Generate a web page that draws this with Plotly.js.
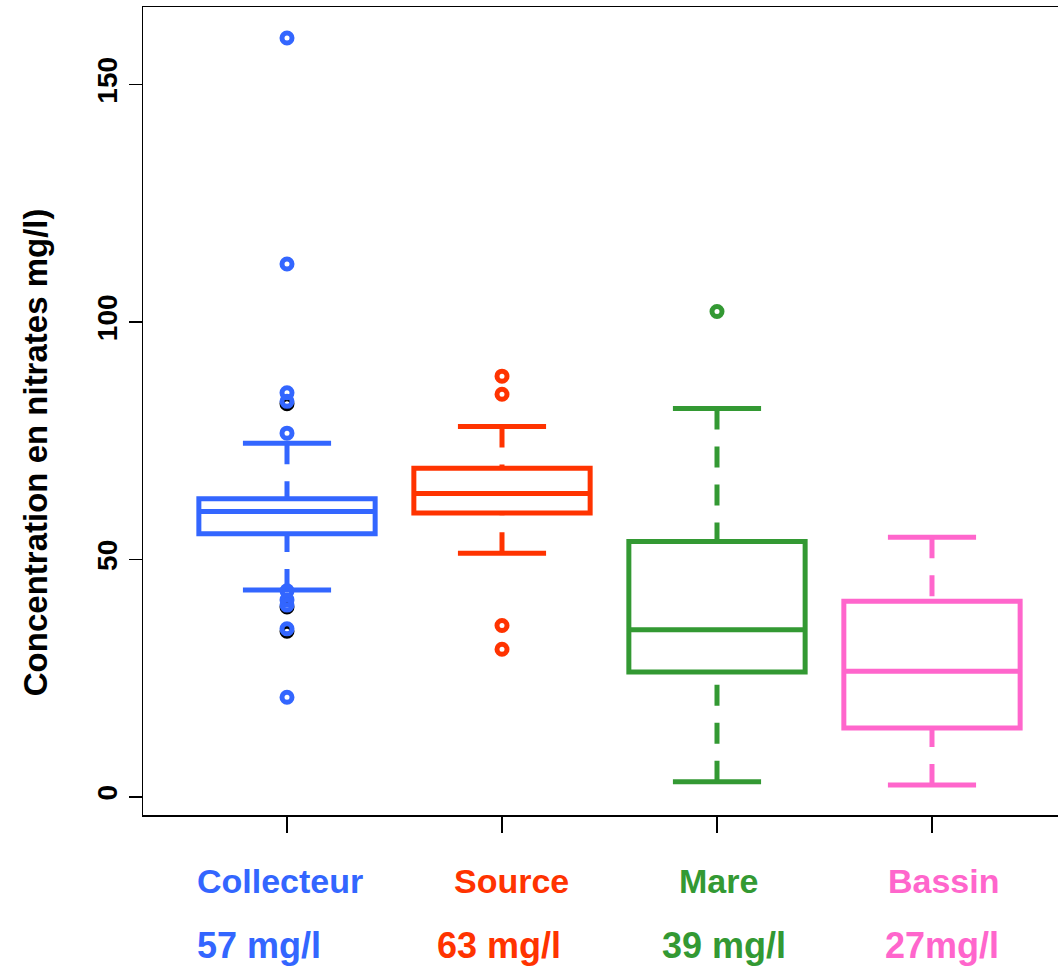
<!DOCTYPE html>
<html>
<head>
<meta charset="utf-8">
<script src="https://cdn.plot.ly/plotly-3.0.1.min.js"></script>
<style>
  html, body { margin: 0; padding: 0; background: #ffffff; overflow: hidden; }
  #chart { width: 1064px; height: 970px; }
</style>
</head>
<body>
<div id="chart"></div>
<script>
// ---- data ----
const categories = ["Collecteur", "Source", "Mare", "Bassin"];
const meanLabels = ["57 mg/l", "63 mg/l", "39 mg/l", "27mg/l"];
const colors = ["#3366FF", "#FF3300", "#339933", "#FF66CC"];

const lowerWhisker = [43.6, 51.3, 3.2, 2.5];
const q1Values     = [55.4, 59.8, 26.3, 14.5];
const medianValues = [60.1, 63.9, 35.2, 26.5];
const q3Values     = [62.8, 69.2, 53.8, 41.2];
const upperWhisker = [74.5, 78.0, 81.8, 54.7];

const outliersCollecteur = [159.8, 112.2, 85.1, 83.3, 76.6, 43.4, 41.5, 40.4, 35.4, 21.0];
const shadowCollecteur   = [82.8, 40.0, 34.9];
const outliersSource     = [88.6, 84.8, 36.1, 31.1];
const outliersMare       = [102.2];
const outliersBassin     = [];
const outliers = [outliersCollecteur, outliersSource, outliersMare, outliersBassin];

const yTicks = [0, 50, 100, 150];
const yTitle = "Concentration en nitrates mg/l)";

// ---- layout constants ----
const boxWidth = 0.82;
const lineW = 5;
const font = "Liberation Sans, Arial, Helvetica, sans-serif";
const nameShift = [-7, 9, 1, 12];
const meanShift = [-28, -3, 7, 10];

const traces = [];

// shadow (black) points beneath some Collecteur outliers
traces.push({
  type: "scatter", mode: "markers",
  x: shadowCollecteur.map(() => 1), y: shadowCollecteur,
  marker: { symbol: "circle-open", size: 10, color: "#000000", line: { width: 5, color: "#000000" } },
  hoverinfo: "y", showlegend: false
});

categories.forEach((cat, i) => {
  const pos = i + 1;
  const c = colors[i];
  // box + median (whiskers drawn separately as dashed lines)
  traces.push({
    type: "box", name: cat, x: [pos],
    q1: [q1Values[i]], median: [medianValues[i]], q3: [q3Values[i]],
    lowerfence: [q1Values[i]], upperfence: [q3Values[i]],
    width: boxWidth, whiskerwidth: 0, boxpoints: false,
    line: { color: c, width: lineW }, fillcolor: "rgba(255,255,255,0)",
    showlegend: false
  });
  // dashed whiskers (from whisker end to box)
  traces.push({
    type: "scatter", mode: "lines",
    x: [pos, pos, null, pos, pos],
    y: [upperWhisker[i], q3Values[i], null, lowerWhisker[i], q1Values[i]],
    line: { color: c, width: lineW, dash: "21px,17px" },
    hoverinfo: "skip", showlegend: false
  });
  // whisker caps
  const h = boxWidth / 4;
  traces.push({
    type: "scatter", mode: "lines",
    x: [pos - h, pos + h, null, pos - h, pos + h],
    y: [upperWhisker[i], upperWhisker[i], null, lowerWhisker[i], lowerWhisker[i]],
    line: { color: c, width: lineW },
    hoverinfo: "skip", showlegend: false
  });
  // outliers
  if (outliers[i].length) {
    traces.push({
      type: "scatter", mode: "markers",
      x: outliers[i].map(() => pos), y: outliers[i],
      marker: { symbol: "circle-open", size: 10, color: c, line: { width: 5, color: c } },
      hoverinfo: "y", showlegend: false
    });
  }
});

const annotations = [];
categories.forEach((cat, i) => {
  annotations.push({
    text: "<b>" + cat + "</b>", x: i + 1, xref: "x", y: -0.0817, yref: "paper",
    xanchor: "center", yanchor: "middle", xshift: nameShift[i], showarrow: false,
    font: { family: font, size: 34, color: colors[i] }
  });
  annotations.push({
    text: "<b>" + meanLabels[i] + "</b>", x: i + 1, xref: "x", y: -0.162, yref: "paper",
    xanchor: "center", yanchor: "middle", xshift: meanShift[i], showarrow: false,
    font: { family: font, size: 36, color: colors[i] }
  });
});
annotations.push({
  text: "<b>" + yTitle + "</b>", textangle: -90,
  x: -108 / 921, xref: "paper", y: 0.449, yref: "paper",
  xanchor: "center", yanchor: "middle", showarrow: false,
  font: { family: font, size: 33, color: "#000000" }
});

const layout = {
  width: 1064, height: 970,
  margin: { l: 143, r: 0, t: 7, b: 155 },
  paper_bgcolor: "#ffffff", plot_bgcolor: "#ffffff",
  showlegend: false,
  xaxis: {
    range: [0.3302, 4.614], tickvals: [1, 2, 3, 4], showticklabels: false,
    ticks: "outside", ticklen: 16, tickwidth: 1.5, tickcolor: "#000000",
    showline: true, linecolor: "#000000", linewidth: 1.5, mirror: true,
    showgrid: false, zeroline: false
  },
  yaxis: {
    range: [-3.79, 166.32], tickvals: yTicks, ticktext: yTicks.map(String),
    tickangle: -90, ticks: "outside", ticklen: 13, tickwidth: 1.5, tickcolor: "#000000",
    tickfont: { family: font, size: 28, color: "#000000", weight: "bold" },
    showline: true, linecolor: "#000000", linewidth: 1.5, mirror: true,
    showgrid: false, zeroline: false
  },
  annotations: annotations
};

Plotly.newPlot("chart", traces, layout, { displayModeBar: false, staticPlot: true });
</script>
</body>
</html>
